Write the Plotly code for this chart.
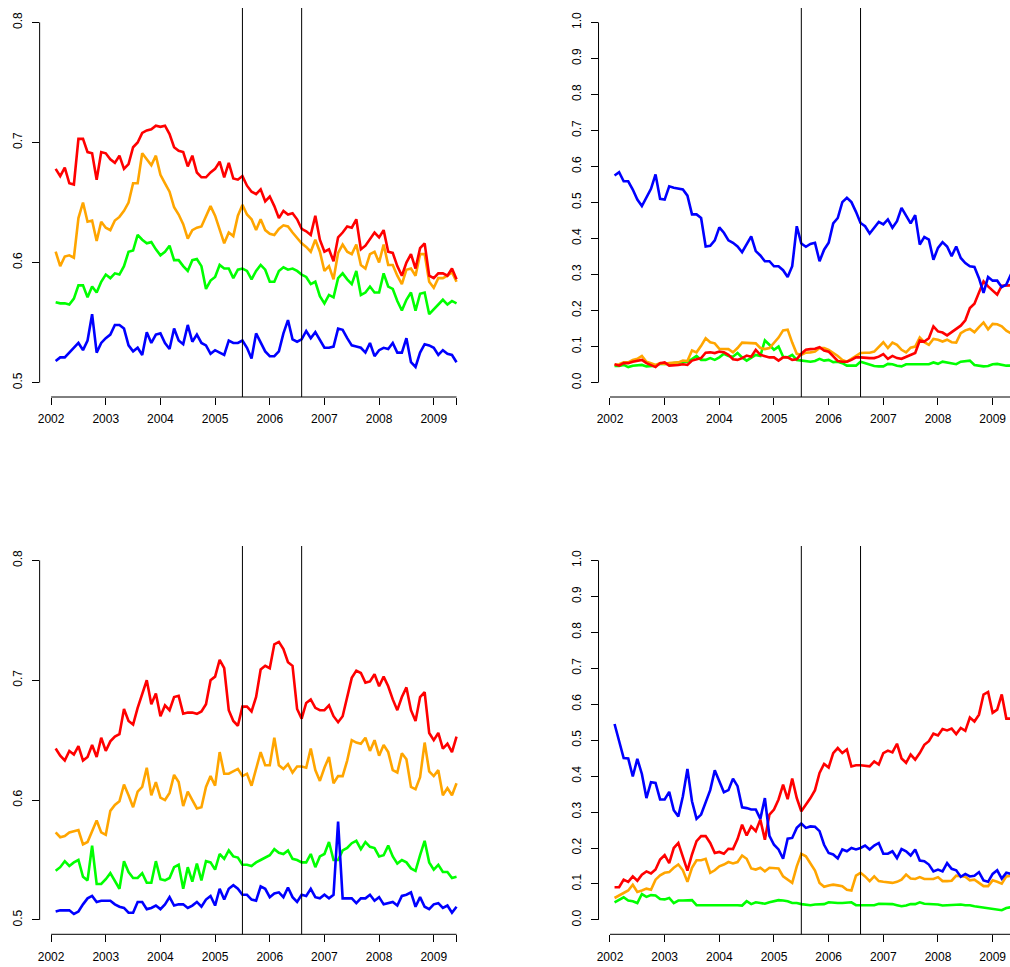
import plotly.graph_objects as go

# ---- data: monthly, Feb 2002 .. Jun 2009 (89 points) ----
start_year = 2002
start_month = 2
n_months = 89
months = [start_year + (start_month - 1 + i) / 12 for i in range(n_months)]

# Panel A (top-left)
a_red = [0.678,0.672,0.679,0.666,0.665,0.703,0.703,0.692,0.691,0.669,0.692,0.691,0.686,0.683,0.689,0.678,0.682,0.696,0.700,0.708,0.710,0.711,0.714,0.713,0.714,0.707,0.696,0.693,0.692,0.680,0.689,0.675,0.671,0.671,0.675,0.678,0.684,0.671,0.683,0.670,0.669,0.672,0.664,0.659,0.657,0.661,0.651,0.655,0.647,0.637,0.643,0.640,0.641,0.636,0.628,0.626,0.623,0.639,0.619,0.609,0.611,0.601,0.621,0.625,0.630,0.629,0.636,0.611,0.614,0.619,0.625,0.621,0.627,0.609,0.608,0.597,0.589,0.600,0.607,0.595,0.612,0.616,0.589,0.587,0.591,0.591,0.589,0.595,0.586]
a_orange = [0.609,0.597,0.605,0.606,0.604,0.637,0.650,0.634,0.635,0.618,0.634,0.629,0.627,0.635,0.638,0.643,0.650,0.666,0.666,0.691,0.686,0.681,0.689,0.673,0.666,0.659,0.646,0.640,0.632,0.620,0.627,0.629,0.630,0.639,0.647,0.639,0.627,0.616,0.625,0.622,0.639,0.648,0.640,0.636,0.627,0.636,0.627,0.624,0.623,0.628,0.631,0.630,0.625,0.620,0.616,0.613,0.609,0.619,0.609,0.593,0.597,0.586,0.608,0.615,0.609,0.607,0.615,0.598,0.595,0.607,0.609,0.600,0.615,0.598,0.598,0.589,0.582,0.594,0.595,0.589,0.607,0.607,0.584,0.579,0.587,0.587,0.589,0.592,0.584]
a_green = [0.567,0.566,0.566,0.565,0.570,0.581,0.581,0.571,0.580,0.575,0.584,0.590,0.587,0.591,0.590,0.597,0.609,0.610,0.623,0.619,0.616,0.617,0.611,0.606,0.609,0.614,0.602,0.602,0.597,0.593,0.602,0.603,0.597,0.578,0.585,0.588,0.598,0.595,0.595,0.587,0.594,0.595,0.593,0.586,0.593,0.598,0.594,0.584,0.584,0.593,0.596,0.594,0.595,0.593,0.590,0.588,0.582,0.584,0.572,0.566,0.573,0.571,0.587,0.591,0.586,0.582,0.593,0.573,0.575,0.580,0.575,0.575,0.591,0.580,0.578,0.568,0.560,0.569,0.575,0.560,0.574,0.575,0.557,0.561,0.565,0.569,0.565,0.568,0.566]
a_blue = [0.518,0.521,0.521,0.525,0.529,0.533,0.527,0.535,0.557,0.525,0.533,0.537,0.540,0.548,0.548,0.545,0.531,0.526,0.529,0.523,0.542,0.533,0.540,0.541,0.533,0.528,0.545,0.535,0.532,0.548,0.534,0.540,0.533,0.531,0.524,0.527,0.525,0.523,0.535,0.533,0.533,0.535,0.529,0.520,0.541,0.533,0.526,0.522,0.522,0.526,0.541,0.552,0.536,0.534,0.536,0.543,0.537,0.542,0.536,0.529,0.529,0.530,0.545,0.544,0.537,0.531,0.530,0.529,0.525,0.533,0.522,0.527,0.529,0.528,0.533,0.525,0.525,0.537,0.517,0.513,0.525,0.532,0.531,0.529,0.523,0.527,0.524,0.523,0.517]

# Panel B (top-right)
b_red = [0.051,0.047,0.054,0.054,0.058,0.061,0.063,0.054,0.049,0.043,0.054,0.056,0.047,0.047,0.049,0.051,0.049,0.061,0.065,0.068,0.083,0.084,0.082,0.086,0.084,0.077,0.065,0.063,0.068,0.075,0.072,0.091,0.077,0.074,0.070,0.070,0.061,0.070,0.070,0.063,0.065,0.080,0.091,0.093,0.094,0.098,0.089,0.086,0.074,0.060,0.058,0.058,0.063,0.070,0.070,0.068,0.068,0.068,0.072,0.079,0.066,0.074,0.068,0.066,0.072,0.077,0.082,0.117,0.114,0.123,0.156,0.142,0.139,0.131,0.140,0.148,0.158,0.173,0.207,0.219,0.249,0.281,0.267,0.256,0.244,0.269,0.270,0.270,0.275]
b_orange = [0.049,0.051,0.056,0.056,0.063,0.066,0.074,0.058,0.054,0.049,0.054,0.052,0.054,0.054,0.056,0.061,0.060,0.089,0.084,0.102,0.123,0.112,0.109,0.094,0.094,0.093,0.084,0.096,0.111,0.111,0.109,0.109,0.096,0.093,0.096,0.109,0.125,0.145,0.147,0.111,0.080,0.077,0.083,0.084,0.086,0.096,0.096,0.091,0.083,0.074,0.063,0.058,0.066,0.075,0.082,0.083,0.083,0.086,0.100,0.112,0.096,0.111,0.105,0.091,0.084,0.097,0.100,0.125,0.112,0.105,0.121,0.119,0.114,0.119,0.112,0.111,0.137,0.145,0.149,0.140,0.154,0.167,0.148,0.163,0.162,0.156,0.144,0.137,0.135]
b_green = [0.046,0.046,0.049,0.043,0.047,0.047,0.049,0.045,0.046,0.047,0.052,0.051,0.052,0.054,0.056,0.057,0.058,0.065,0.074,0.063,0.063,0.068,0.063,0.070,0.080,0.074,0.072,0.082,0.070,0.061,0.068,0.077,0.074,0.117,0.105,0.091,0.100,0.072,0.070,0.077,0.063,0.061,0.058,0.058,0.060,0.066,0.061,0.063,0.057,0.058,0.054,0.047,0.047,0.047,0.058,0.054,0.049,0.046,0.045,0.045,0.052,0.051,0.047,0.045,0.051,0.051,0.049,0.051,0.049,0.051,0.056,0.052,0.058,0.056,0.054,0.051,0.058,0.060,0.061,0.049,0.046,0.045,0.046,0.051,0.052,0.049,0.047,0.047,0.047]
b_blue = [0.575,0.584,0.559,0.559,0.536,0.508,0.490,0.516,0.538,0.578,0.510,0.508,0.545,0.541,0.538,0.536,0.519,0.467,0.467,0.457,0.378,0.380,0.395,0.431,0.416,0.395,0.388,0.378,0.362,0.383,0.406,0.365,0.353,0.337,0.337,0.323,0.323,0.312,0.293,0.323,0.434,0.386,0.377,0.385,0.388,0.337,0.369,0.388,0.442,0.457,0.501,0.513,0.501,0.474,0.443,0.434,0.414,0.430,0.446,0.439,0.453,0.430,0.448,0.485,0.462,0.442,0.465,0.383,0.404,0.397,0.341,0.374,0.390,0.378,0.351,0.378,0.346,0.332,0.323,0.321,0.290,0.249,0.293,0.283,0.283,0.265,0.272,0.300,0.310]

# Panel C (bottom-left)
c_red = [0.643,0.637,0.633,0.641,0.638,0.645,0.633,0.636,0.646,0.636,0.652,0.641,0.649,0.653,0.655,0.676,0.666,0.663,0.677,0.688,0.700,0.680,0.689,0.670,0.679,0.675,0.686,0.687,0.672,0.673,0.673,0.672,0.674,0.680,0.700,0.703,0.717,0.710,0.675,0.666,0.662,0.678,0.678,0.674,0.686,0.709,0.712,0.710,0.730,0.732,0.726,0.715,0.712,0.676,0.668,0.681,0.684,0.677,0.675,0.675,0.679,0.670,0.665,0.670,0.686,0.702,0.708,0.706,0.698,0.699,0.705,0.695,0.703,0.695,0.684,0.675,0.686,0.694,0.675,0.666,0.686,0.690,0.656,0.650,0.656,0.643,0.647,0.640,0.653]
c_orange = [0.573,0.569,0.570,0.573,0.574,0.575,0.563,0.565,0.574,0.583,0.573,0.571,0.591,0.596,0.599,0.613,0.604,0.594,0.607,0.611,0.627,0.604,0.615,0.602,0.600,0.606,0.621,0.615,0.595,0.607,0.600,0.593,0.594,0.611,0.620,0.612,0.640,0.622,0.622,0.624,0.626,0.620,0.622,0.612,0.625,0.640,0.629,0.629,0.652,0.629,0.626,0.630,0.623,0.628,0.628,0.627,0.643,0.625,0.616,0.627,0.636,0.614,0.620,0.620,0.633,0.650,0.648,0.647,0.652,0.641,0.650,0.637,0.646,0.640,0.625,0.623,0.639,0.634,0.611,0.609,0.619,0.648,0.624,0.620,0.625,0.604,0.610,0.604,0.614]
c_green = [0.541,0.544,0.549,0.545,0.548,0.550,0.536,0.533,0.562,0.530,0.530,0.534,0.539,0.533,0.526,0.549,0.540,0.535,0.535,0.539,0.531,0.531,0.549,0.534,0.533,0.535,0.544,0.546,0.526,0.544,0.532,0.547,0.533,0.549,0.548,0.542,0.555,0.551,0.558,0.553,0.552,0.546,0.546,0.545,0.548,0.550,0.552,0.554,0.559,0.556,0.555,0.558,0.551,0.550,0.548,0.548,0.555,0.544,0.553,0.555,0.565,0.550,0.550,0.558,0.560,0.564,0.566,0.559,0.565,0.561,0.560,0.553,0.554,0.562,0.553,0.547,0.550,0.548,0.543,0.541,0.554,0.566,0.548,0.542,0.546,0.540,0.540,0.535,0.536]
c_blue = [0.507,0.508,0.508,0.508,0.505,0.507,0.513,0.518,0.520,0.515,0.516,0.516,0.516,0.513,0.511,0.510,0.506,0.506,0.515,0.515,0.509,0.510,0.512,0.509,0.513,0.519,0.512,0.513,0.513,0.510,0.512,0.515,0.511,0.517,0.520,0.512,0.526,0.517,0.526,0.529,0.526,0.521,0.521,0.517,0.516,0.528,0.526,0.519,0.522,0.523,0.519,0.527,0.519,0.515,0.521,0.520,0.526,0.519,0.518,0.521,0.518,0.521,0.582,0.518,0.518,0.518,0.514,0.518,0.518,0.521,0.516,0.519,0.513,0.514,0.515,0.512,0.520,0.521,0.523,0.511,0.519,0.511,0.509,0.513,0.514,0.510,0.512,0.506,0.511]

# Panel D (bottom-right)
d_red = [0.091,0.091,0.112,0.106,0.121,0.109,0.126,0.135,0.129,0.140,0.168,0.180,0.158,0.200,0.214,0.174,0.137,0.182,0.219,0.233,0.233,0.214,0.186,0.189,0.184,0.198,0.197,0.225,0.265,0.235,0.260,0.247,0.279,0.223,0.293,0.307,0.335,0.376,0.336,0.393,0.339,0.302,0.319,0.339,0.361,0.409,0.434,0.424,0.464,0.478,0.464,0.474,0.427,0.430,0.430,0.429,0.427,0.441,0.432,0.464,0.471,0.466,0.490,0.449,0.437,0.460,0.446,0.464,0.487,0.497,0.518,0.513,0.531,0.527,0.532,0.517,0.534,0.526,0.563,0.552,0.571,0.627,0.634,0.576,0.585,0.627,0.560,0.560,0.560]
d_orange = [0.061,0.068,0.077,0.082,0.098,0.078,0.082,0.087,0.084,0.112,0.124,0.131,0.133,0.145,0.154,0.138,0.106,0.145,0.166,0.166,0.170,0.131,0.138,0.149,0.154,0.161,0.157,0.161,0.179,0.170,0.143,0.140,0.145,0.135,0.145,0.143,0.143,0.121,0.112,0.103,0.149,0.184,0.177,0.158,0.137,0.103,0.092,0.096,0.098,0.096,0.094,0.084,0.082,0.123,0.131,0.121,0.108,0.121,0.108,0.106,0.105,0.103,0.106,0.112,0.126,0.115,0.114,0.119,0.114,0.114,0.114,0.119,0.108,0.108,0.109,0.123,0.121,0.120,0.110,0.112,0.103,0.094,0.094,0.110,0.106,0.101,0.121,0.123,0.120]
d_green = [0.049,0.057,0.063,0.054,0.052,0.047,0.072,0.064,0.069,0.068,0.058,0.057,0.061,0.047,0.054,0.054,0.054,0.055,0.041,0.041,0.041,0.043,0.043,0.043,0.041,0.041,0.041,0.041,0.040,0.052,0.044,0.049,0.047,0.045,0.049,0.052,0.055,0.054,0.052,0.047,0.047,0.044,0.043,0.041,0.043,0.043,0.044,0.049,0.047,0.047,0.047,0.047,0.049,0.041,0.041,0.043,0.043,0.041,0.045,0.045,0.045,0.044,0.041,0.038,0.040,0.044,0.044,0.049,0.045,0.045,0.044,0.043,0.040,0.041,0.043,0.043,0.043,0.041,0.041,0.038,0.036,0.033,0.032,0.031,0.029,0.027,0.033,0.036,0.038]
d_blue = [0.545,0.495,0.450,0.449,0.399,0.448,0.406,0.339,0.383,0.381,0.335,0.335,0.356,0.305,0.288,0.344,0.420,0.330,0.281,0.293,0.325,0.361,0.416,0.386,0.355,0.361,0.393,0.372,0.313,0.311,0.307,0.307,0.281,0.339,0.234,0.209,0.196,0.170,0.226,0.228,0.256,0.268,0.256,0.260,0.259,0.247,0.209,0.186,0.182,0.171,0.196,0.191,0.200,0.196,0.200,0.207,0.196,0.207,0.214,0.184,0.184,0.191,0.172,0.197,0.191,0.179,0.196,0.165,0.163,0.154,0.135,0.140,0.135,0.158,0.142,0.138,0.120,0.128,0.121,0.123,0.133,0.110,0.106,0.128,0.138,0.115,0.131,0.128,0.125]

event_lines = [2005.5, 2006.5833]
x_tick_vals = [2002, 2003, 2004, 2005, 2006, 2007, 2008, 2009]
left_y_ticks = [0.5, 0.6, 0.7, 0.8]
right_y_ticks = [0.0, 0.1, 0.2, 0.3, 0.4, 0.5, 0.6, 0.7, 0.8, 0.9, 1.0]

panels = [
    dict(series=[a_green, a_orange, a_red, a_blue], yticks=left_y_ticks, pos="tl"),
    dict(series=[b_green, b_orange, b_red, b_blue], yticks=right_y_ticks, pos="tr"),
    dict(series=[c_green, c_orange, c_red, c_blue], yticks=left_y_ticks, pos="bl"),
    dict(series=[d_green, d_orange, d_red, d_blue], yticks=right_y_ticks, pos="br"),
]
colors = ["#00FF00", "#FFA500", "#FF0000", "#0000FF"]

W, H = 1010, 967
# pixel geometry of plot regions
xdom = {"l": (37.7 / W, 471.5 / W), "r": (597.7 / W, 1.0)}
ydom = {"t": (1 - 397.0 / H, 1 - 8.0 / H), "b": (1 - 934.3 / H, 1 - 546.0 / H)}

x_end = months[-1]
x_pad = 0.04 * (months[-1] - months[0])
x_lo = months[0] - x_pad
x_hi_left = months[-1] + x_pad
px_per_year = (471.5 - 37.7) / (x_hi_left - x_lo)
x_hi_right = x_lo + (W - 597.7) / px_per_year

font = dict(family="Liberation Sans, Arial, Helvetica, sans-serif", size=12, color="black")

fig = go.Figure()
shapes = []
layout = dict(width=W, height=H, autosize=False, margin=dict(l=0, r=0, t=0, b=0),
              paper_bgcolor="white", plot_bgcolor="white", showlegend=False, font=font)

for k, p in enumerate(panels):
    idx = "" if k == 0 else str(k + 1)
    xa, ya = "x" + idx, "y" + idx
    col = "l" if p["pos"][1] == "l" else "r"
    row = "t" if p["pos"][0] == "t" else "b"
    for s, c in zip(p["series"], colors):
        fig.add_trace(go.Scatter(x=months, y=s, mode="lines", xaxis=xa, yaxis=ya,
                                 line=dict(color=c, width=2.6), hoverinfo="skip"))
    yt = p["yticks"]
    ypad = 0.04 * (yt[-1] - yt[0])
    xr = [x_lo, x_hi_left if col == "l" else x_hi_right]
    layout["xaxis" + idx] = dict(domain=list(xdom[col]), anchor=ya, range=xr,
                                 tickvals=x_tick_vals + [x_end],
                                 ticktext=[str(v) for v in x_tick_vals] + [""],
                                 ticks="outside", ticklen=7, tickwidth=1, tickcolor="black",
                                 showline=False, showgrid=False, zeroline=False,
                                 ticklabelstandoff=4, tickfont=font)
    layout["yaxis" + idx] = dict(domain=list(ydom[row]), anchor=xa,
                                 range=[yt[0] - ypad, yt[-1] + ypad],
                                 tickvals=yt, ticktext=["%.1f" % v for v in yt],
                                 tickangle=-90,
                                 ticks="outside", ticklen=7, tickwidth=1, tickcolor="black",
                                 showline=False, showgrid=False, zeroline=False,
                                 ticklabelstandoff=5, tickfont=font)
    yb = ydom[row][0]
    xl = xdom[col][0]
    # x axis line (spans tick range)
    shapes.append(dict(type="line", xref=xa, yref="paper", x0=x_tick_vals[0], x1=x_end,
                       y0=yb, y1=yb, line=dict(color="black", width=1)))
    # y axis line (spans tick range)
    shapes.append(dict(type="line", xref="paper", yref=ya, x0=xl, x1=xl,
                       y0=yt[0], y1=yt[-1], line=dict(color="black", width=1)))
    for ev in event_lines:
        shapes.append(dict(type="line", xref=xa, yref="paper", x0=ev, x1=ev,
                           y0=ydom[row][0], y1=ydom[row][1], line=dict(color="black", width=1)))

layout["shapes"] = shapes
fig.update_layout(**layout)
fig.write_html("out.html", config={"displayModeBar": False},
               post_script="document.body.style.margin='0';")
